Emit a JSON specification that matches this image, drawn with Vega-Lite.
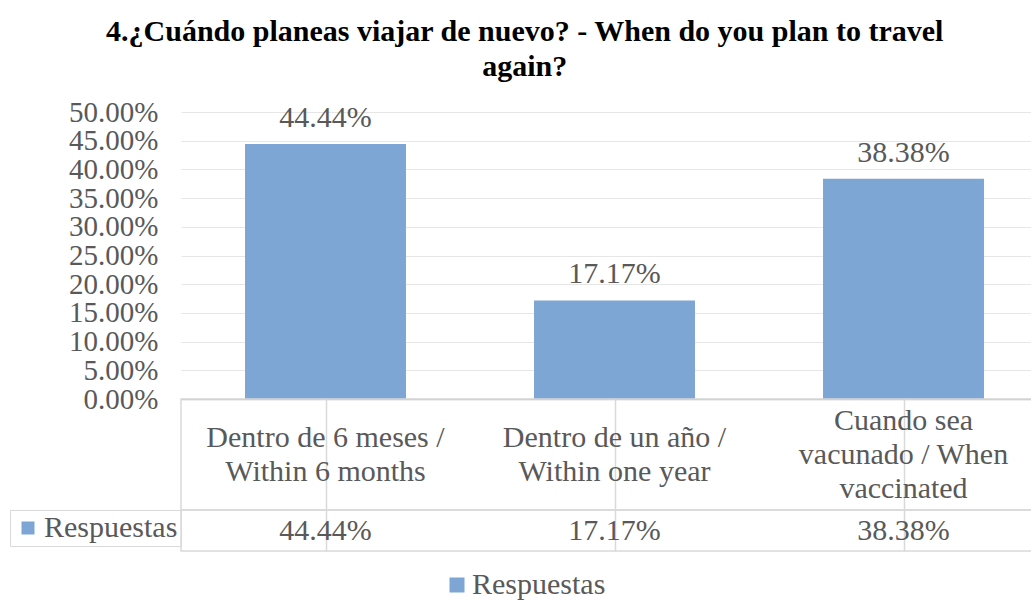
{
  "$schema": "https://vega.github.io/schema/vega-lite/v6.json",
  "padding": {"left": 8, "top": 17, "right": 0, "bottom": 5},
  "background": "white",
  "title": {
    "text": ["4.¿Cuándo planeas viajar de nuevo? - When do you plan to travel", "again?"],
    "font": "Liberation Serif",
    "fontSize": 30,
    "fontWeight": "bold",
    "color": "#000000",
    "lineHeight": 35,
    "anchor": "middle",
    "frame": "bounds",
    "dx": -4,
    "offset": 16
  },
  "data": {
    "values": [
      {"categoria": "Dentro de 6 meses /\nWithin 6 months", "valor": 0.4444, "serie": "Respuestas"},
      {"categoria": "Dentro de un año /\nWithin one year", "valor": 0.1717, "serie": "Respuestas"},
      {"categoria": "Cuando sea\nvacunado / When\nvaccinated", "valor": 0.3838, "serie": "Respuestas"}
    ]
  },
  "bounds": "flush",
  "spacing": 0,
  "resolve": {"scale": {"x": "independent"}, "legend": {"color": "independent"}},
  "vconcat": [
    {
      "width": 867,
      "height": 287,
      "view": {"stroke": null},
      "encoding": {
        "x": {"field": "categoria", "type": "nominal", "sort": null,
              "scale": {"paddingInner": 0, "paddingOuter": 0},
              "axis": {"labels": false, "ticks": false, "grid": false, "title": null, "domain": true, "domainColor": "#bfbfbf", "domainWidth": 1.5}},
        "y": {"field": "valor", "type": "quantitative",
              "scale": {"domain": [0, 0.5], "nice": false},
              "axis": {"values": [0, 0.05, 0.1, 0.15, 0.2, 0.25, 0.3, 0.35, 0.4, 0.45, 0.5], "format": ".2%", "title": null,
                       "domain": false, "ticks": false, "labelPadding": 23, "labelOverlap": false,
                       "labelFontSize": 29, "labelColor": "#595959", "labelFont": "Liberation Serif",
                       "gridColor": "#e6e6e6", "gridWidth": 1.2}}
      },
      "layer": [
        {
          "mark": {"type": "bar", "width": {"band": 0.557}},
          "encoding": {
            "color": {"field": "serie", "type": "nominal",
                      "scale": {"range": ["#7da6d4"]},
                      "legend": {"orient": "none", "legendX": 261, "legendY": 458, "title": null,
                                 "symbolType": "square", "symbolSize": 225, "symbolStrokeWidth": 0,
                                 "labelFontSize": 30, "labelColor": "#595959", "labelFont": "Liberation Serif",
                                 "labelOffset": 0, "padding": 0}}
          }
        },
        {
          "mark": {"type": "text", "baseline": "alphabetic", "dy": -17, "fontSize": 30, "color": "#595959", "font": "Liberation Serif"},
          "encoding": {
            "text": {"field": "valor", "type": "quantitative", "format": ".2%"}
          }
        }
      ]
    },
    {
      "width": 867,
      "height": 111,
      "view": {"stroke": "#d9d9d9", "strokeWidth": 1.5},
      "mark": {"type": "text", "baseline": "middle", "lineBreak": "\n", "lineHeight": 34, "fontSize": 30, "color": "#595959", "font": "Liberation Serif",
               "dy": {"expr": "-(length(split(datum.categoria, '\\n')) - 1) * 17"}},
      "encoding": {
        "x": {"field": "categoria", "type": "nominal", "sort": null,
              "scale": {"paddingInner": 0, "paddingOuter": 0},
              "axis": {"orient": "top", "labels": false, "ticks": false, "domain": false, "grid": true, "bandPosition": 0,
                       "gridColor": "#d9d9d9", "gridWidth": 1.5, "title": null}},
        "text": {"field": "categoria", "type": "nominal"}
      }
    },
    {
      "width": 867,
      "height": 41,
      "view": {"stroke": "#d9d9d9", "strokeWidth": 1.5},
      "layer": [
        {
          "mark": {"type": "text", "baseline": "middle", "fontSize": 30, "color": "#595959", "font": "Liberation Serif"},
          "encoding": {
            "x": {"field": "categoria", "type": "nominal", "sort": null,
                  "scale": {"paddingInner": 0, "paddingOuter": 0},
                  "axis": {"orient": "top", "labels": false, "ticks": false, "domain": false, "grid": true, "bandPosition": 0,
                           "gridColor": "#d9d9d9", "gridWidth": 1.5, "title": null}},
            "text": {"field": "valor", "type": "quantitative", "format": ".2%"}
          }
        },
        {
          "mark": {"type": "square", "size": 0},
          "encoding": {
            "x": {"field": "categoria", "type": "nominal", "sort": null},
            "color": {"field": "serie", "type": "nominal",
                      "legend": {"orient": "left", "offset": 0, "title": null, "padding": 3,
                                 "strokeColor": "#d9d9d9",
                                 "symbolType": "square", "symbolSize": 169, "symbolStrokeWidth": 0, "symbolOpacity": 1,
                                 "labelFontSize": 30, "labelColor": "#595959", "labelFont": "Liberation Serif",
                                 "labelOffset": 1}}
          }
        }
      ]
    }
  ],
  "config": {
    "font": "Liberation Serif",
    "view": {"stroke": null}
  }
}
